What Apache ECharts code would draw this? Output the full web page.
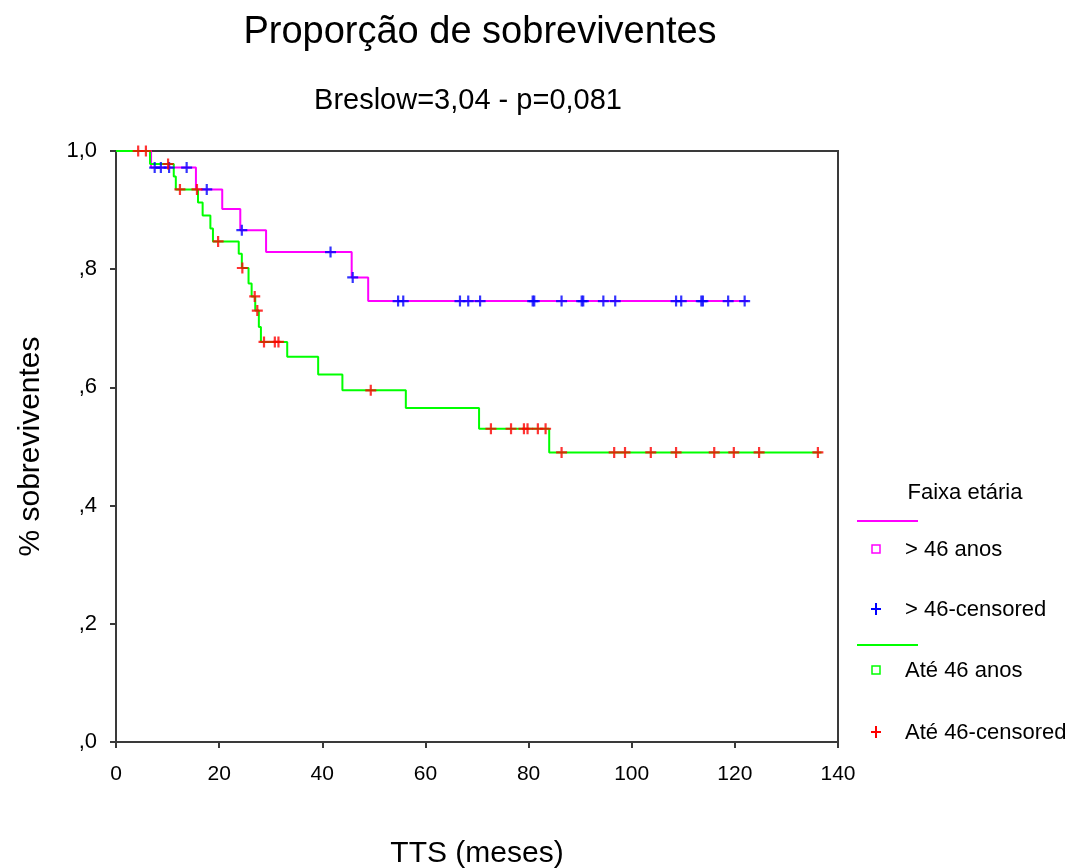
<!DOCTYPE html>
<html>
<head>
<meta charset="utf-8">
<script src="https://cdn.jsdelivr.net/npm/echarts@6/dist/echarts.min.js"></script>
<style>
  html, body { margin: 0; padding: 0; background: #fff; }
  #chart { width: 1083px; height: 868px; }
</style>
</head>
<body>
<div id="chart"></div>
<script>
// Kaplan-Meier curve for "> 46 anos": time of each drop and the survival after it
const olderTimes = [0, 6.8, 15.5, 20.6, 24.1, 29.1, 45.7, 48.9, 122.6];
const olderSurv  = [1.0, 0.972, 0.935, 0.902, 0.866, 0.829, 0.786, 0.746, 0.746];
// censored observations (months) for "> 46 anos"
const olderCensored = [7.5, 8.7, 10.3, 13.7, 17.6, 24.4, 41.6, 45.9, 54.7, 55.7, 66.7, 68.3, 70.6,
  80.8, 81.1, 86.4, 90.3, 90.6, 94.5, 96.8, 108.6, 109.6, 113.5, 113.8, 118.7, 121.9];

// Kaplan-Meier curve for "Até 46 anos"
const youngerTimes = [0, 6.6, 11.2, 11.6, 15.9, 16.8, 18.3, 18.8, 23.8, 24.4, 25.7, 26.3, 27.0,
  27.7, 28.1, 33.2, 39.2, 43.9, 56.2, 70.4, 84.0, 136.8];
const youngerSurv  = [1.0, 0.978, 0.957, 0.935, 0.913, 0.891, 0.869, 0.847, 0.826, 0.802, 0.776,
  0.754, 0.730, 0.702, 0.677, 0.652, 0.622, 0.595, 0.565, 0.530, 0.490, 0.490];
// censored observations (months) for "Até 46 anos"
const youngerCensored = [4.3, 5.8, 10.1, 12.4, 15.7, 19.8, 24.5, 26.9, 27.4, 28.7, 30.8, 31.5, 49.4,
  72.7, 76.6, 79.1, 79.8, 81.8, 83.3, 86.4, 96.6, 98.7, 103.7, 108.6, 116.0, 119.8, 124.7, 136.1];

const xTicks = [0, 20, 40, 60, 80, 100, 120, 140];
const yTickLabels = { 0: ',0', 0.2: ',2', 0.4: ',4', 0.6: ',6', 0.8: ',8', 1: '1,0' };

// survival level of a step curve at time t
function levelAt(times, surv, t) {
  let v = surv[0];
  for (let i = 0; i < times.length; i++) {
    if (times[i] <= t) v = surv[i];
  }
  return v;
}
const curve = (times, surv) => times.map((t, i) => [t, surv[i]]);
const censorPoints = (cens, times, surv) => cens.map(t => [t, levelAt(times, surv, t)]);

const FONT = "'Liberation Sans', Arial, sans-serif";
const PLUS = 'path://M4,0H6V4H10V6H6V10H4V6H0V4H4Z';

const chart = echarts.init(document.getElementById('chart'), null, { renderer: 'canvas' });

const legendX = 876;
const option = {
  animation: false,
  backgroundColor: '#ffffff',
  textStyle: { fontFamily: FONT, color: '#000' },
  grid: {
    left: 116, right: 245, top: 151, bottom: 126,
    containLabel: false, outerBoundsMode: 'none',
    show: true, borderColor: '#3a3a3a', borderWidth: 2, backgroundColor: '#ffffff'
  },
  xAxis: {
    type: 'value', min: 0, max: 140, interval: 20,
    name: 'TTS (meses)', nameLocation: 'middle', nameGap: 97,
    nameTextStyle: { fontSize: 30, color: '#000', fontFamily: FONT },
    axisLine: { show: true, lineStyle: { color: '#3a3a3a', width: 2 } },
    axisTick: { show: true, inside: false, length: 6, lineStyle: { color: '#3a3a3a', width: 2 } },
    axisLabel: {
      margin: 22, fontSize: 21, color: '#000', fontFamily: FONT,
      formatter: v => xTicks.includes(v) ? String(v) : ''
    },
    splitLine: { show: false }
  },
  yAxis: {
    type: 'value', min: 0, max: 1, interval: 0.2,
    name: '% sobreviventes', nameLocation: 'middle', nameGap: 70, nameRotate: 90,
    nameTextStyle: { fontSize: 30, color: '#000', fontFamily: FONT },
    axisLine: { show: true, lineStyle: { color: '#3a3a3a', width: 2 } },
    axisTick: { show: true, inside: false, length: 6, lineStyle: { color: '#3a3a3a', width: 2 } },
    axisLabel: {
      margin: 19, fontSize: 22, color: '#000', fontFamily: FONT,
      formatter: v => yTickLabels[Math.round(v * 10) / 10] || ''
    },
    splitLine: { show: false }
  },
  series: [
    {
      name: '> 46 anos', type: 'line', step: 'end', showSymbol: false,
      data: curve(olderTimes, olderSurv),
      lineStyle: { color: '#ff00ff', width: 2 }, z: 3
    },
    {
      name: 'Até 46 anos', type: 'line', step: 'end', showSymbol: false,
      data: curve(youngerTimes, youngerSurv),
      lineStyle: { color: '#00ff00', width: 2 }, z: 3
    },
    {
      name: '> 46-censored', type: 'scatter', symbol: PLUS, symbolSize: 11,
      data: censorPoints(olderCensored, olderTimes, olderSurv),
      itemStyle: { color: '#0000ff' }, z: 4
    },
    {
      name: 'Até 46-censored', type: 'scatter', symbol: PLUS, symbolSize: 11,
      data: censorPoints(youngerCensored, youngerTimes, youngerSurv),
      itemStyle: { color: '#ff0000' }, z: 4
    }
  ],
  graphic: [
    { type: 'text', x: 480, y: 33,
      style: { text: 'Proporção de sobreviventes', font: `38px ${FONT}`, fill: '#000', align: 'center', verticalAlign: 'middle' } },
    { type: 'text', x: 468, y: 101,
      style: { text: 'Breslow=3,04 - p=0,081', font: `29px ${FONT}`, fill: '#000', align: 'center', verticalAlign: 'middle' } },

    { type: 'text', x: 965, y: 493,
      style: { text: 'Faixa etária', font: `22px ${FONT}`, fill: '#000', align: 'center', verticalAlign: 'middle' } },

    { type: 'line', shape: { x1: 857, y1: 521, x2: 918, y2: 521 }, style: { stroke: '#ff00ff', lineWidth: 2 } },
    { type: 'rect', shape: { x: legendX - 4, y: 545, width: 8, height: 8 }, style: { stroke: '#ff00ff', fill: null, lineWidth: 1.5 } },
    { type: 'text', x: 905, y: 550,
      style: { text: '> 46 anos', font: `22px ${FONT}`, fill: '#000', align: 'left', verticalAlign: 'middle' } },

    { type: 'line', shape: { x1: legendX - 5, y1: 609, x2: legendX + 5, y2: 609 }, style: { stroke: '#0000ff', lineWidth: 2 } },
    { type: 'line', shape: { x1: legendX, y1: 603, x2: legendX, y2: 615 }, style: { stroke: '#0000ff', lineWidth: 2 } },
    { type: 'text', x: 905, y: 610,
      style: { text: '> 46-censored', font: `22px ${FONT}`, fill: '#000', align: 'left', verticalAlign: 'middle' } },

    { type: 'line', shape: { x1: 857, y1: 645, x2: 918, y2: 645 }, style: { stroke: '#00ff00', lineWidth: 2 } },
    { type: 'rect', shape: { x: legendX - 4, y: 666, width: 8, height: 8 }, style: { stroke: '#00ff00', fill: null, lineWidth: 1.5 } },
    { type: 'text', x: 905, y: 671,
      style: { text: 'Até 46 anos', font: `22px ${FONT}`, fill: '#000', align: 'left', verticalAlign: 'middle' } },

    { type: 'line', shape: { x1: legendX - 5, y1: 732, x2: legendX + 5, y2: 732 }, style: { stroke: '#ff0000', lineWidth: 2 } },
    { type: 'line', shape: { x1: legendX, y1: 726, x2: legendX, y2: 738 }, style: { stroke: '#ff0000', lineWidth: 2 } },
    { type: 'text', x: 905, y: 733,
      style: { text: 'Até 46-censored', font: `22px ${FONT}`, fill: '#000', align: 'left', verticalAlign: 'middle' } }
  ]
};

chart.setOption(option);
</script>
</body>
</html>
